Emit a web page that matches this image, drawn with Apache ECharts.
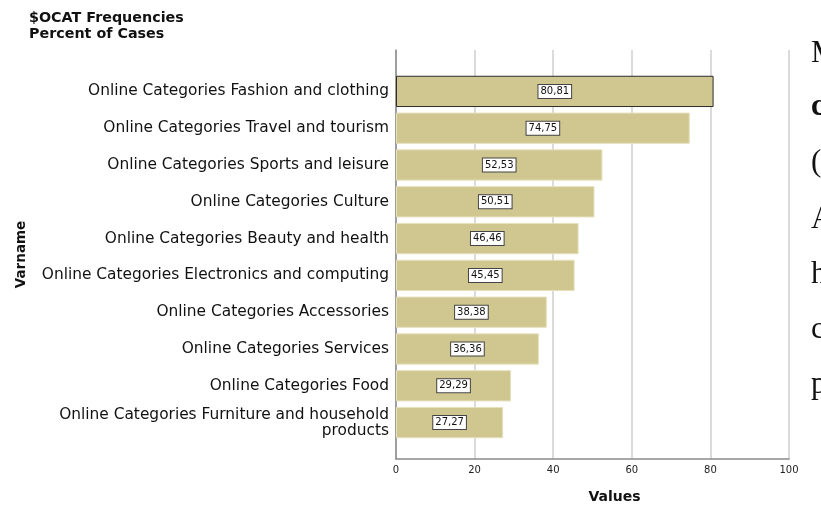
<!DOCTYPE html>
<html>
<head>
<meta charset="utf-8">
<script src="https://cdn.jsdelivr.net/npm/echarts@6/dist/echarts.min.js"></script>
<style>
  html, body { margin: 0; padding: 0; background: #fff; }
  #chart { width: 821px; height: 506px; }
</style>
</head>
<body>
<div id="chart"></div>
<script>
// Multiple-response frequencies: percent of cases per online category
const categories = [
  'Online Categories Fashion and clothing',
  'Online Categories Travel and tourism',
  'Online Categories Sports and leisure',
  'Online Categories Culture',
  'Online Categories Beauty and health',
  'Online Categories Electronics and computing',
  'Online Categories Accessories',
  'Online Categories Services',
  'Online Categories Food',
  'Online Categories Furniture and household\nproducts'
];
const percents = [80.81, 74.75, 52.53, 50.51, 46.46, 45.45, 38.38, 36.36, 29.29, 27.27];
const xTicks = [0, 20, 40, 60, 80, 100];

// Fragments of the adjoining document text, clipped at the right edge
const sideLetters = ['M', 'c', '(', 'A', 'h', 'c', 'p'];
const sideBold = [false, true, false, false, false, false, false];
const sideBaselines = [62, 115, 171, 228, 283, 338, 393];

const font = '"DejaVu Sans", sans-serif';
const barColor = '#d0c790';

const chart = echarts.init(document.getElementById('chart'), null, { renderer: 'canvas' });

const barData = percents.map((v, i) => ({
  value: v,
  itemStyle: i === 0
    ? { color: barColor, borderColor: '#2b2b2b', borderWidth: 1 }
    : { color: barColor, borderColor: '#e6e0bd', borderWidth: 1 }
}));

const option = {
  backgroundColor: '#ffffff',
  animation: false,
  title: {
    text: '$OCAT Frequencies\nPercent of Cases',
    left: 24,
    top: 5,
    textStyle: {
      fontFamily: font, fontSize: 14.3, fontWeight: 'bold', color: '#111', lineHeight: 16
    }
  },
  grid: [
    { left: 396, right: 32, top: 50, bottom: 47, outerBoundsMode: 'none', containLabel: false },
    { left: 396, right: 32, top: 73, bottom: 65, outerBoundsMode: 'none', containLabel: false }
  ],
  xAxis: [
    {
      gridIndex: 0, type: 'value', min: 0, max: 100, interval: 20,
      axisLine: { show: true, lineStyle: { color: '#8a8a8a', width: 1.5 } },
      axisTick: { show: false },
      axisLabel: {
        fontFamily: font, fontSize: 10, color: '#222', margin: 6,
        formatter: v => (xTicks.includes(v) ? String(v) : '')
      },
      splitLine: { show: true, lineStyle: { color: '#cfcfcf', width: 1.5 } },
      name: 'Values', nameLocation: 'middle', nameGap: 31,
      nameTextStyle: {
        fontFamily: font, fontSize: 14, fontWeight: 'bold', color: '#111',
        padding: [0, 0, 0, 44]
      }
    },
    {
      gridIndex: 1, type: 'value', min: 0, max: 100, show: false
    }
  ],
  yAxis: [
    {
      gridIndex: 0, type: 'value', min: 0, max: 1,
      axisLine: { show: true, lineStyle: { color: '#8a8a8a', width: 1.5 } },
      axisTick: { show: false }, axisLabel: { show: false }, splitLine: { show: false },
      name: 'Varname', nameLocation: 'middle', nameGap: 368, nameRotate: 90,
      nameTextStyle: { fontFamily: font, fontSize: 13.5, fontWeight: 'bold', color: '#111' }
    },
    {
      gridIndex: 1, type: 'category', data: categories, inverse: true,
      axisLine: { show: false }, axisTick: { show: false },
      axisLabel: {
        fontFamily: font, fontSize: 15.4, color: '#111', margin: 7,
        lineHeight: 16, align: 'right'
      }
    }
  ],
  series: [
    {
      type: 'bar', xAxisIndex: 1, yAxisIndex: 1,
      data: barData,
      barCategoryGap: '15%',
      label: {
        show: true, position: 'inside',
        formatter: p => p.value.toFixed(2).replace('.', ','),
        fontFamily: font, fontSize: 10, color: '#111',
        backgroundColor: '#ffffff', borderColor: '#444', borderWidth: 1,
        padding: [2, 2, 1, 2]
      }
    }
  ],
  graphic: sideLetters.map((ch, i) => ({
    type: 'text',
    left: 811,
    top: sideBaselines[i] - 24,
    style: {
      text: ch,
      font: (sideBold[i] ? 'bold ' : '') + '31px "Liberation Serif", serif',
      fill: '#111'
    }
  }))
};

chart.setOption(option);
</script>
</body>
</html>
